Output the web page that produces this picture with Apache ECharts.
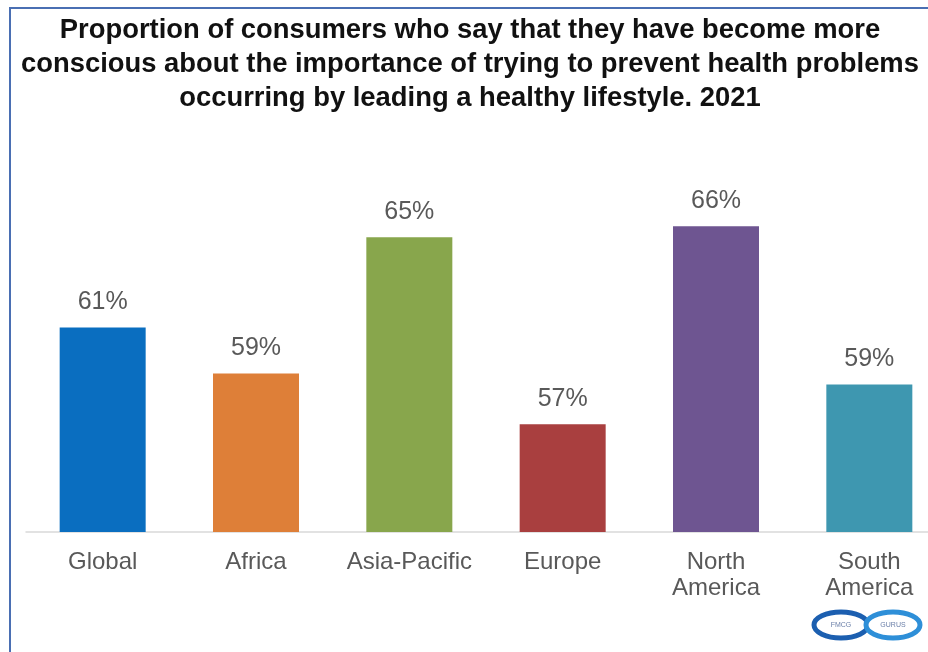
<!DOCTYPE html>
<html>
<head>
<meta charset="utf-8">
<script src="https://cdn.jsdelivr.net/npm/echarts@6/dist/echarts.min.js"></script>
<style>
html,body{margin:0;padding:0;background:#fff;}
#chart{width:928px;height:652px;}
</style>
</head>
<body>
<div id="chart"></div>
<script>
const titleText = 'Proportion of consumers who say that they have become more\nconscious about the importance of trying to prevent health problems\noccurring by leading a healthy lifestyle. 2021';
const categories = ['Global', 'Africa', 'Asia-Pacific', 'Europe', 'North\nAmerica', 'South\nAmerica'];
const values = [61.3, 59.2, 65.4, 56.9, 65.9, 58.7];
const colors = ['#0A6EC0', '#DE7F38', '#88A64C', '#A93F3F', '#6E5591', '#3E97B0'];

const chart = echarts.init(document.getElementById('chart'), null, {renderer: 'canvas'});
const option = {
  backgroundColor: '#ffffff',
  animation: false,
  grid: {left: 26, width: 920, top: 224, height: 308, containLabel: false, outerBoundsMode: 'none'},
  xAxis: {
    type: 'category',
    data: categories,
    axisLine: {show: true, lineStyle: {color: '#D9D9D9', width: 1.5}},
    axisTick: {show: false},
    axisLabel: {
      margin: 17,
      fontFamily: 'Liberation Sans, Arial, sans-serif',
      fontSize: 24,
      lineHeight: 26,
      color: '#595959',
      interval: 0
    }
  },
  yAxis: {
    type: 'value',
    min: 52,
    max: 66,
    show: false,
    splitLine: {show: false}
  },
  series: [{
    type: 'bar',
    barWidth: 86,
    data: values.map((v, i) => ({value: v, itemStyle: {color: colors[i]}})),
    label: {
      show: true,
      position: 'top',
      distance: 13,
      formatter: p => Math.round(p.value) + '%',
      fontFamily: 'Liberation Sans, Arial, sans-serif',
      fontSize: 25,
      color: '#595959'
    }
  }],
  graphic: [
    {type: 'text', z: 100, style: {
      text: titleText, x: 470, y: 13, align: 'center', verticalAlign: 'top',
      fontFamily: 'Liberation Sans, Arial, sans-serif', fontWeight: 'bold',
      fontSize: 27.4, lineHeight: 34, fill: '#111111'
    }},
    {type: 'rect', shape: {x: 10, y: 8, width: 940, height: 660}, style: {fill: 'none', stroke: '#4A6FB3', lineWidth: 2}, z: 100},
    {type: 'group', z: 100, children: [
      {type: 'ellipse', shape: {cx: 841, cy: 625, rx: 27, ry: 13}, style: {fill: '#fff', stroke: '#1C5FB0', lineWidth: 5}},
      {type: 'ellipse', shape: {cx: 893, cy: 625, rx: 27, ry: 13}, style: {fill: '#fff', stroke: '#2E8FD8', lineWidth: 5}},
      {type: 'text', style: {text: 'FMCG', x: 841, y: 625, align: 'center', verticalAlign: 'middle', fontSize: 7, fill: '#6A7FA8', fontFamily: 'Liberation Sans, Arial, sans-serif'}},
      {type: 'text', style: {text: 'GURUS', x: 893, y: 625, align: 'center', verticalAlign: 'middle', fontSize: 7, fill: '#6A7FA8', fontFamily: 'Liberation Sans, Arial, sans-serif'}}
    ]}
  ]
};
chart.setOption(option);
</script>
</body>
</html>
